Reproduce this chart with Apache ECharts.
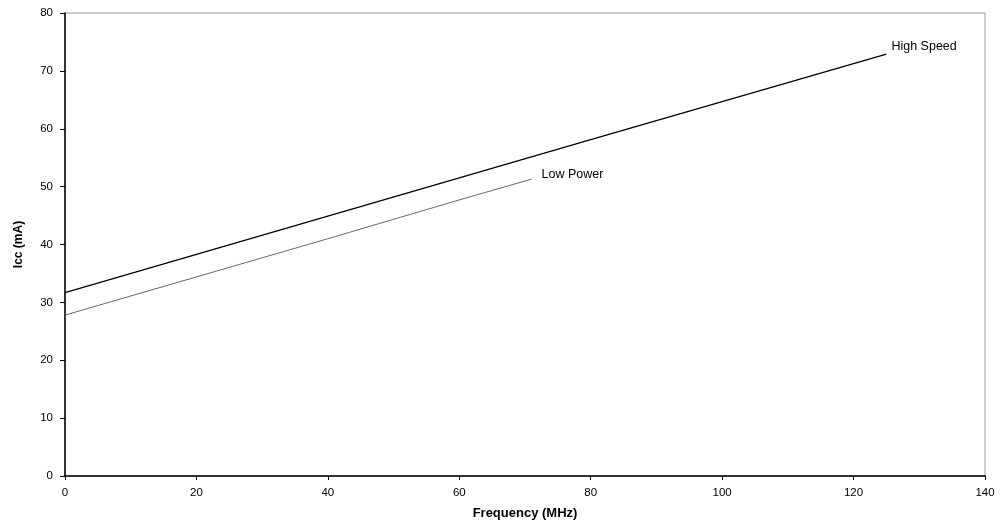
<!DOCTYPE html>
<html>
<head>
<meta charset="utf-8">
<script src="https://cdn.jsdelivr.net/npm/echarts@6/dist/echarts.min.js"></script>
<style>
  html, body { margin: 0; padding: 0; background: #fff; }
  #chart { width: 1000px; height: 527px; }
</style>
</head>
<body>
<div id="chart"></div>
<script>
  // frequency (MHz) vs Icc (mA)
  const highSpeedFreq = [0, 20, 40, 60, 80, 100, 125];
  const highSpeedIcc = [31.7, 38.3, 44.9, 51.5, 58.1, 64.7, 72.9];
  const lowPowerFreq = [0, 20, 40, 60, 71];
  const lowPowerIcc = [27.8, 34.4, 41.0, 47.7, 51.3];

  const pairs = (xs, ys) => xs.map((x, i) => [x, ys[i]]);

  const chart = echarts.init(document.getElementById('chart'));
  const font = 'Liberation Sans, Arial, sans-serif';

  chart.setOption({
    animation: false,
    grid: {
      left: 65, right: 15, top: 13, bottom: 51,
      show: true,
      borderColor: '#999',
      borderWidth: 1
    },
    xAxis: {
      type: 'value',
      min: 0, max: 140, interval: 20,
      name: 'Frequency (MHz)',
      nameLocation: 'middle',
      nameGap: 31,
      nameTextStyle: { fontFamily: font, fontSize: 13, fontWeight: 'bold', color: '#000' },
      axisLine: { show: true, lineStyle: { color: '#000', width: 1.5 } },
      axisTick: { show: true, inside: false, length: 4, lineStyle: { color: '#000' } },
      axisLabel: { fontFamily: font, fontSize: 11.5, color: '#000', margin: 11 },
      splitLine: { show: false }
    },
    yAxis: {
      type: 'value',
      min: 0, max: 80, interval: 10,
      name: 'Icc (mA)',
      nameLocation: 'middle',
      nameGap: 40,
      nameRotate: 90,
      nameTextStyle: { fontFamily: font, fontSize: 12, fontWeight: 'bold', color: '#000' },
      axisLine: { show: true, lineStyle: { color: '#000', width: 1.5 } },
      axisTick: { show: true, inside: false, length: 5, lineStyle: { color: '#000' } },
      axisLabel: { fontFamily: font, fontSize: 11.5, color: '#000', margin: 12 },
      splitLine: { show: false }
    },
    series: [
      {
        name: 'High Speed',
        type: 'line',
        data: pairs(highSpeedFreq, highSpeedIcc),
        showSymbol: false,
        lineStyle: { color: '#000', width: 1.3 },
        endLabel: {
          show: true,
          formatter: '{a}',
          fontFamily: font, fontSize: 12.5, color: '#000',
          offset: [-3, -8]
        }
      },
      {
        name: 'Low Power',
        type: 'line',
        data: pairs(lowPowerFreq, lowPowerIcc),
        showSymbol: false,
        lineStyle: { color: '#666', width: 1 },
        endLabel: {
          show: true,
          formatter: '{a}',
          fontFamily: font, fontSize: 12.5, color: '#000',
          offset: [2, -5]
        }
      }
    ]
  });
</script>
</body>
</html>
